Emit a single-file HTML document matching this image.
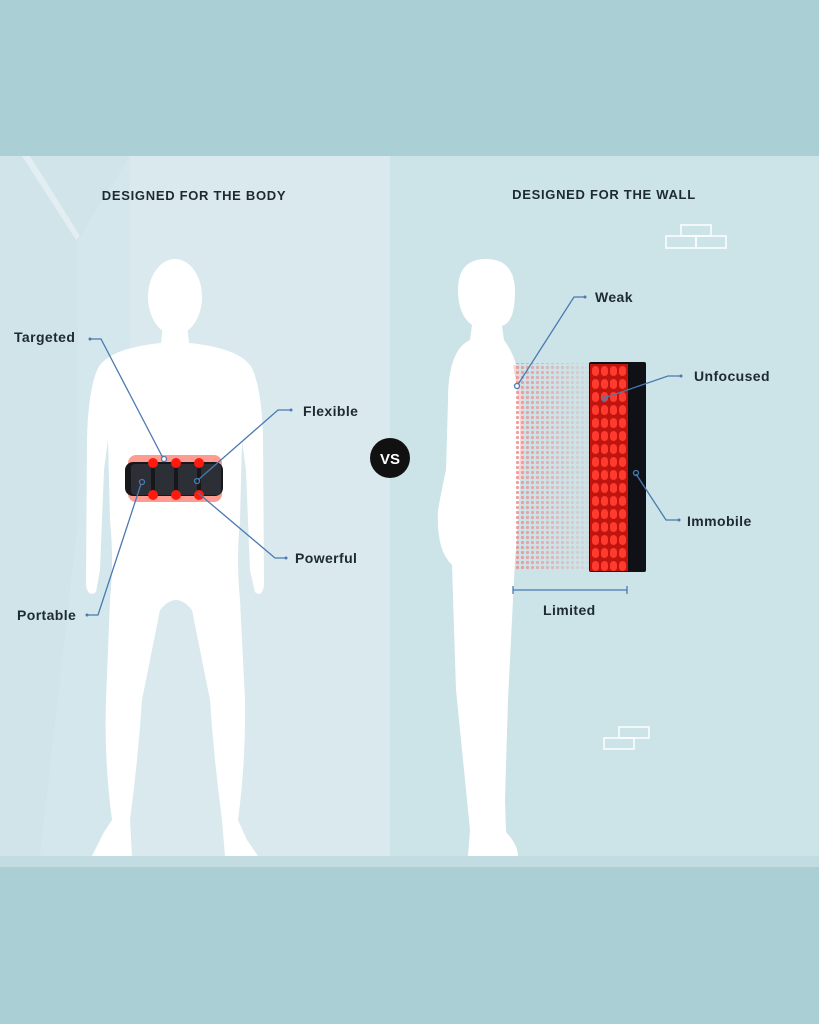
<!DOCTYPE html>
<html><head><meta charset="utf-8"><style>
html,body{margin:0;padding:0;width:819px;height:1024px;overflow:hidden;background:#aad0d6}
svg{display:block}
text{font-family:"Liberation Sans",sans-serif;font-weight:bold;fill:#1e2a33}
</style></head><body>
<svg width="819" height="1024" viewBox="0 0 819 1024" xmlns="http://www.w3.org/2000/svg">
<defs>
<pattern id="dots" width="5" height="5" patternUnits="userSpaceOnUse"><circle cx="2.5" cy="2.5" r="1.6" fill="#f08a8a"/></pattern>
<linearGradient id="fade" x1="0" x2="1"><stop offset="0" stop-color="#fff" stop-opacity="0.85"/><stop offset="1" stop-color="#fff" stop-opacity="0.1"/></linearGradient>
<mask id="fm"><rect x="515" y="363" width="76" height="208" fill="url(#fade)"/></mask>
</defs>
<rect x="0" y="0" width="819" height="156" fill="#aad0d6"/>
<rect x="0" y="156" width="819" height="700" fill="#cce3e8"/>
<rect x="0" y="156" width="390" height="700" fill="#dae9ee"/>
<polygon points="0,156 130,156 130,856 0,856" fill="#d0e4e9"/>
<polygon points="22,156 30,156 80,236 76,240" fill="#e2eef2"/>
<polygon points="78,240 130,156 130,856 40,856 78,520" fill="#d4e7ec"/>
<rect x="0" y="856" width="819" height="11" fill="#c2dce1"/>
<rect x="0" y="867" width="819" height="157" fill="#aad0d6"/>
<text x="194" y="200" font-size="13" text-anchor="middle" letter-spacing="0.7">DESIGNED FOR THE BODY</text>
<text x="604" y="199" font-size="13" text-anchor="middle" letter-spacing="0.7">DESIGNED FOR THE WALL</text>
<g fill="none" stroke="#fff" stroke-width="1.5">
<rect x="681" y="225" width="30" height="11"/><rect x="666" y="236" width="30" height="12"/><rect x="696" y="236" width="30" height="12"/>
<rect x="619" y="727" width="30" height="11"/><rect x="604" y="738" width="30" height="11"/>
</g>
<g fill="#fff">
<ellipse cx="175" cy="297" rx="27" ry="38"/>
<path d="M163,325 L187,325 L189,343 Q240,348 252,368 Q262,390 263,440 L264,585 Q262,598 255,592 L250,570 L246,470 L242,440 L240,520 Q236,560 240,600 L245,700 Q246,760 238,820 L247,840 L258,856 L225,856 L222,820 Q214,760 210,700 L192,610 Q176,590 160,610 L142,700 Q138,760 130,820 L132,856 L92,856 L104,832 L112,820 Q104,760 106,700 L110,600 Q114,560 110,520 L108,440 L104,470 L100,570 L96,592 Q88,598 86,585 L87,440 Q88,390 98,368 Q110,348 161,343 Z"/>
</g>
<rect x="128" y="455" width="94" height="47" rx="8" fill="#ff8a7e" opacity="0.85"/>
<rect x="125" y="462" width="98" height="34" rx="8" fill="#16181c"/>
<g fill="#2c2f35"><rect x="131" y="464" width="20" height="31" rx="4"/><rect x="155" y="464" width="19" height="31" rx="4"/><rect x="178" y="464" width="19" height="31" rx="4"/><rect x="201" y="464" width="20" height="31" rx="4"/></g>
<g fill="#ff1a10"><circle cx="153" cy="463" r="5"/><circle cx="176" cy="463" r="5"/><circle cx="199" cy="463" r="5"/><circle cx="153" cy="495" r="5"/><circle cx="176" cy="495" r="5"/><circle cx="199" cy="495" r="5"/></g>
<g fill="none" stroke="#4a7ab0" stroke-width="1.3">
<polyline points="90,339 101,339 163,458"/><circle cx="164" cy="459" r="2.5" fill="#fff"/>
<polyline points="290,410 278,410 198,480"/><circle cx="197" cy="481" r="2.5"/>
<polyline points="286,558 275,558 198,493"/>
<polyline points="87,615 98,615 141,484"/><circle cx="142" cy="482" r="2.5"/>
</g>
<g fill="#4a7ab0"><circle cx="90" cy="339" r="1.5"/><circle cx="291" cy="410" r="1.5"/><circle cx="286" cy="558" r="1.5"/><circle cx="87" cy="615" r="1.5"/></g>
<g font-size="14" letter-spacing="0.4">
<text x="14" y="342">Targeted</text>
<text x="303" y="416">Flexible</text>
<text x="295" y="563">Powerful</text>
<text x="17" y="620">Portable</text>
</g>
<circle cx="390" cy="458" r="20" fill="#111"/>
<text x="390" y="464" font-size="15" style="fill:#fff" text-anchor="middle">VS</text>
<g fill="#fff">
<path d="M486,259 Q515,259 515,292 Q515,322 502,326 L504,340 Q513,352 517,368 Q522,420 520,480 Q518,530 515,560 L508,700 L505,800 L506,832 Q518,845 518,856 L468,856 L470,830 L461,740 L456,690 L452,565 Q436,550 438,510 Q442,488 446,470 L448,400 Q448,350 470,340 L472,325 Q458,315 458,290 Q458,259 486,259 Z"/>
</g>
<path d="M515,365 Q526,420 520,480" stroke="#f7d6d6" stroke-width="4" fill="none"/>
<rect x="515" y="363" width="76" height="208" fill="url(#dots)" mask="url(#fm)"/>
<rect x="589" y="362" width="57" height="210" rx="2" fill="#0f1116"/>
<rect x="590" y="364" width="38" height="207" fill="#c0150e"/>
<g fill="#ff3a2e">
<g id="row"><rect x="592" y="366" width="7" height="10" rx="3.5"/><rect x="601" y="366" width="7" height="10" rx="3.5"/><rect x="610" y="366" width="7" height="10" rx="3.5"/><rect x="619" y="366" width="7" height="10" rx="3.5"/></g>
<use href="#row" y="13"/><use href="#row" y="26"/><use href="#row" y="39"/><use href="#row" y="52"/><use href="#row" y="65"/><use href="#row" y="78"/><use href="#row" y="91"/><use href="#row" y="104"/><use href="#row" y="117"/><use href="#row" y="130"/><use href="#row" y="143"/><use href="#row" y="156"/><use href="#row" y="169"/><use href="#row" y="182"/><use href="#row" y="195"/>
</g>
<g fill="none" stroke="#4a7ab0" stroke-width="1.3">
<polyline points="585,297 574,297 517,386"/><circle cx="517" cy="386" r="2.5" fill="#fff"/>
<polyline points="681,376 668,376 604,398"/><circle cx="604" cy="398" r="2.5"/>
<polyline points="679,520 666,520 636,474"/><circle cx="636" cy="473" r="2.5"/>
<line x1="513" y1="590" x2="627" y2="590"/><line x1="513" y1="586" x2="513" y2="594"/><line x1="627" y1="586" x2="627" y2="594"/>
</g>
<g fill="#4a7ab0"><circle cx="585" cy="297" r="1.5"/><circle cx="681" cy="376" r="1.5"/><circle cx="679" cy="520" r="1.5"/></g>
<g font-size="14" letter-spacing="0.4">
<text x="595" y="302">Weak</text>
<text x="694" y="381">Unfocused</text>
<text x="687" y="526">Immobile</text>
<text x="543" y="615">Limited</text>
</g>
</svg>
</body></html>
